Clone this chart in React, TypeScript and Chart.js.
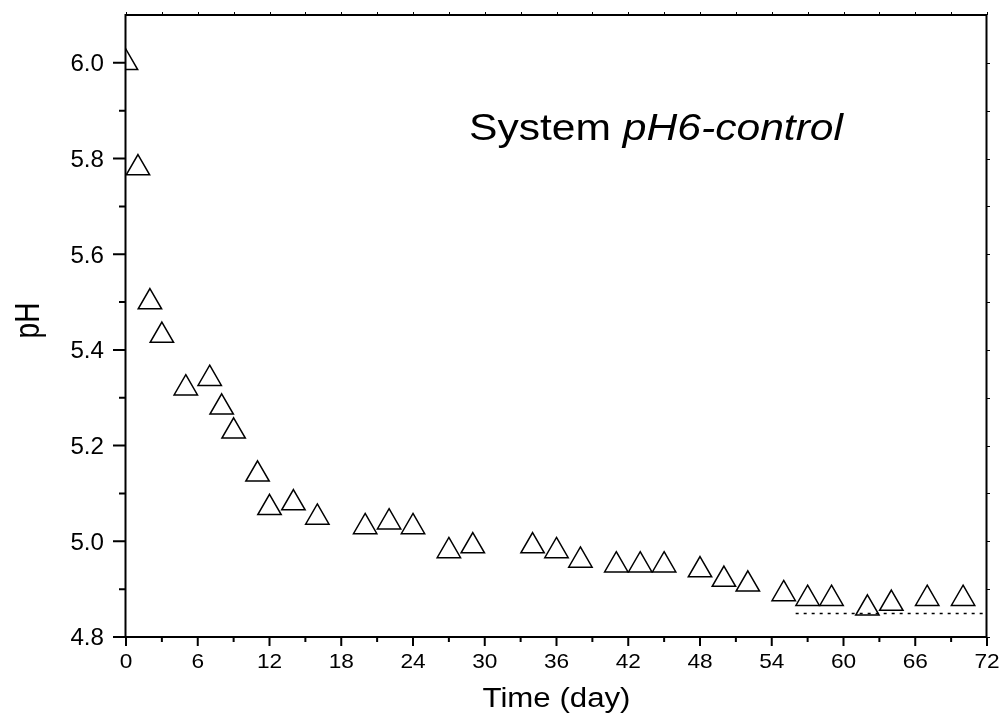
import { useEffect, useRef } from 'react';
import { Chart, registerables } from 'chart.js';

Chart.register(...registerables);

// ---- data ----
const days = [0, 1, 2, 3, 5, 7, 8, 9, 11, 12, 14, 16, 20, 22, 24, 27, 29, 34, 36, 38, 41, 43, 45, 48, 50, 52, 55, 57, 59, 62, 64, 67, 70];
const phValues = [6.0, 5.78, 5.5, 5.43, 5.32, 5.34, 5.28, 5.23, 5.14, 5.07, 5.08, 5.05, 5.03, 5.04, 5.03, 4.98, 4.99, 4.99, 4.98, 4.96, 4.95, 4.95, 4.95, 4.94, 4.92, 4.91, 4.89, 4.88, 4.88, 4.86, 4.87, 4.88, 4.88];
const refLineDays = [56, 71.7];
const refLinePh = [4.849, 4.849];
const xTicks = [0, 6, 12, 18, 24, 30, 36, 42, 48, 54, 60, 66, 72];
const xMinorTicks = [3, 9, 15, 21, 27, 33, 39, 45, 51, 57, 63, 69];
const yTicks = [4.8, 5.0, 5.2, 5.4, 5.6, 5.8, 6.0];
const yMinorTicks = [4.9, 5.1, 5.3, 5.5, 5.7, 5.9];
const xTickLabels = ['0', '6', '12', '18', '24', '30', '36', '42', '48', '54', '60', '66', '72'];
const yTickLabels = ['4.8', '5.0', '5.2', '5.4', '5.6', '5.8', '6.0'];
const xTitle = 'Time (day)';
const yTitle = 'pH';
const titleParts = ['System ', 'pH6-control'];

const FONT = 'Arial, "Liberation Sans", Helvetica, sans-serif';

type Part = { text: string; font: string };

function measureParts(ctx: CanvasRenderingContext2D, parts: Part[]) {
  let w = 0;
  for (const p of parts) {
    ctx.font = p.font;
    w += ctx.measureText(p.text).width;
  }
  return w;
}

function drawParts(
  ctx: CanvasRenderingContext2D,
  parts: Part[],
  x: number,
  y: number,
  align: 'left' | 'center' | 'right',
  sx: number
) {
  const total = measureParts(ctx, parts) * sx;
  let start = x;
  if (align === 'center') start = x - total / 2;
  if (align === 'right') start = x - total;
  ctx.save();
  ctx.translate(start, y);
  ctx.scale(sx, 1);
  ctx.textAlign = 'left';
  ctx.textBaseline = 'alphabetic';
  let cx = 0;
  for (const p of parts) {
    ctx.font = p.font;
    ctx.fillText(p.text, cx, 0);
    cx += ctx.measureText(p.text).width;
  }
  ctx.restore();
}

const framePlugin = {
  id: 'frame',
  afterDraw(chart: any) {
    const ctx: CanvasRenderingContext2D = chart.ctx;
    const { left, right, top, bottom } = chart.chartArea;
    const xs = chart.scales.x;
    const ys = chart.scales.y;
    ctx.save();
    ctx.strokeStyle = '#000';
    ctx.fillStyle = '#000';
    ctx.lineCap = 'butt';

    // frame
    ctx.lineWidth = 2;
    ctx.beginPath();
    ctx.rect(left - 0.5, top, right - left, bottom - top);
    ctx.stroke();

    // left + bottom ticks
    ctx.beginPath();
    yTicks.forEach((v) => {
      const py = ys.getPixelForValue(v);
      ctx.moveTo(left - 13, py);
      ctx.lineTo(left, py);
    });
    yMinorTicks.forEach((v) => {
      const py = ys.getPixelForValue(v);
      ctx.moveTo(left - 7, py);
      ctx.lineTo(left, py);
    });
    xTicks.forEach((v) => {
      const px = xs.getPixelForValue(v);
      ctx.moveTo(px, bottom);
      ctx.lineTo(px, bottom + 9);
    });
    xMinorTicks.forEach((v) => {
      const px = xs.getPixelForValue(v);
      ctx.moveTo(px, bottom);
      ctx.lineTo(px, bottom + 5);
    });
    ctx.stroke();

    // top & right small ticks
    ctx.lineWidth = 1;
    ctx.beginPath();
    [...xTicks, ...xMinorTicks].forEach((v) => {
      const px = Math.round(xs.getPixelForValue(v)) + 0.5;
      ctx.moveTo(px, top);
      ctx.lineTo(px, top - 3);
    });
    [...yTicks, ...yMinorTicks].forEach((v) => {
      const py = Math.round(ys.getPixelForValue(v)) + 0.5;
      ctx.moveTo(right, py);
      ctx.lineTo(right + 3, py);
    });
    ctx.stroke();

    // y tick labels
    yTicks.forEach((v, i) => {
      const py = ys.getPixelForValue(v);
      drawParts(ctx, [{ text: yTickLabels[i], font: `23px ${FONT}` }], 104, py + 8.3, 'right', 1.05);
    });
    // x tick labels
    xTicks.forEach((v, i) => {
      const px = xs.getPixelForValue(v);
      drawParts(ctx, [{ text: xTickLabels[i], font: `21px ${FONT}` }], px, 667.5, 'center', 1.08);
    });

    // x title
    const xt: Part[] = [{ text: xTitle, font: `27px ${FONT}` }];
    drawParts(ctx, xt, (left + right) / 2, 707, 'center', 148 / measureParts(ctx, xt));

    // y title (rotated)
    ctx.save();
    ctx.translate(39, 320.5);
    ctx.rotate(-Math.PI / 2);
    ctx.scale(1, 1.22);
    ctx.font = `28px ${FONT}`;
    ctx.textAlign = 'center';
    ctx.textBaseline = 'alphabetic';
    ctx.fillText(yTitle, 0, 0);
    ctx.restore();

    // in-plot title
    const parts: Part[] = [
      { text: titleParts[0], font: `36px ${FONT}` },
      { text: titleParts[1], font: `italic 36px ${FONT}` },
    ];
    drawParts(ctx, parts, 469, 140, 'left', 374 / measureParts(ctx, parts));

    ctx.restore();
  },
};

export default function App() {
  const ref = useRef<HTMLCanvasElement | null>(null);
  useEffect(() => {
    if (!ref.current) return;
    const chart = new Chart(ref.current, {
      type: 'scatter',
      data: {
        datasets: [
          {
            label: 'pH',
            data: days.map((d, i) => ({ x: d, y: phValues[i] })),
            pointStyle: 'triangle',
            pointRadius: 13.5,
            pointHoverRadius: 13.5,
            pointBorderWidth: 1.5,
            borderColor: '#000',
            backgroundColor: 'rgba(0,0,0,0)',
            showLine: false,
            clip: 0,
          } as any,
          {
            label: 'ref',
            data: refLineDays.map((d, i) => ({ x: d, y: refLinePh[i] })),
            showLine: true,
            borderColor: '#000',
            borderWidth: 1.5,
            borderDash: [3, 5],
            pointRadius: 0,
            clip: 0,
          } as any,
        ],
      },
      options: {
        animation: false,
        responsive: false,
        devicePixelRatio: 1,
        layout: { padding: { top: 14, right: 15, left: 0, bottom: 0 } },
        plugins: { legend: { display: false }, tooltip: { enabled: false } },
        events: [],
        scales: {
          x: {
            type: 'linear',
            min: 0,
            max: 72,
            ticks: { display: false },
            grid: { display: false },
            border: { display: false },
            afterBuildTicks: (s: any) => {
              s.ticks = xTicks.map((v) => ({ value: v }));
            },
            afterFit: (s: any) => {
              s.height = 80;
            },
          },
          y: {
            type: 'linear',
            min: 4.8,
            max: 6.1,
            ticks: { display: false },
            grid: { display: false },
            border: { display: false },
            afterBuildTicks: (s: any) => {
              s.ticks = yTicks.map((v) => ({ value: v }));
            },
            afterFit: (s: any) => {
              s.width = 126;
            },
          },
        },
      } as any,
      plugins: [framePlugin],
    });
    return () => chart.destroy();
  }, []);
  return (
    <div style={{ position: 'fixed', left: 0, top: 0, width: 1002, height: 717, background: '#fff' }}>
      <canvas ref={ref} width={1002} height={717} />
    </div>
  );
}
